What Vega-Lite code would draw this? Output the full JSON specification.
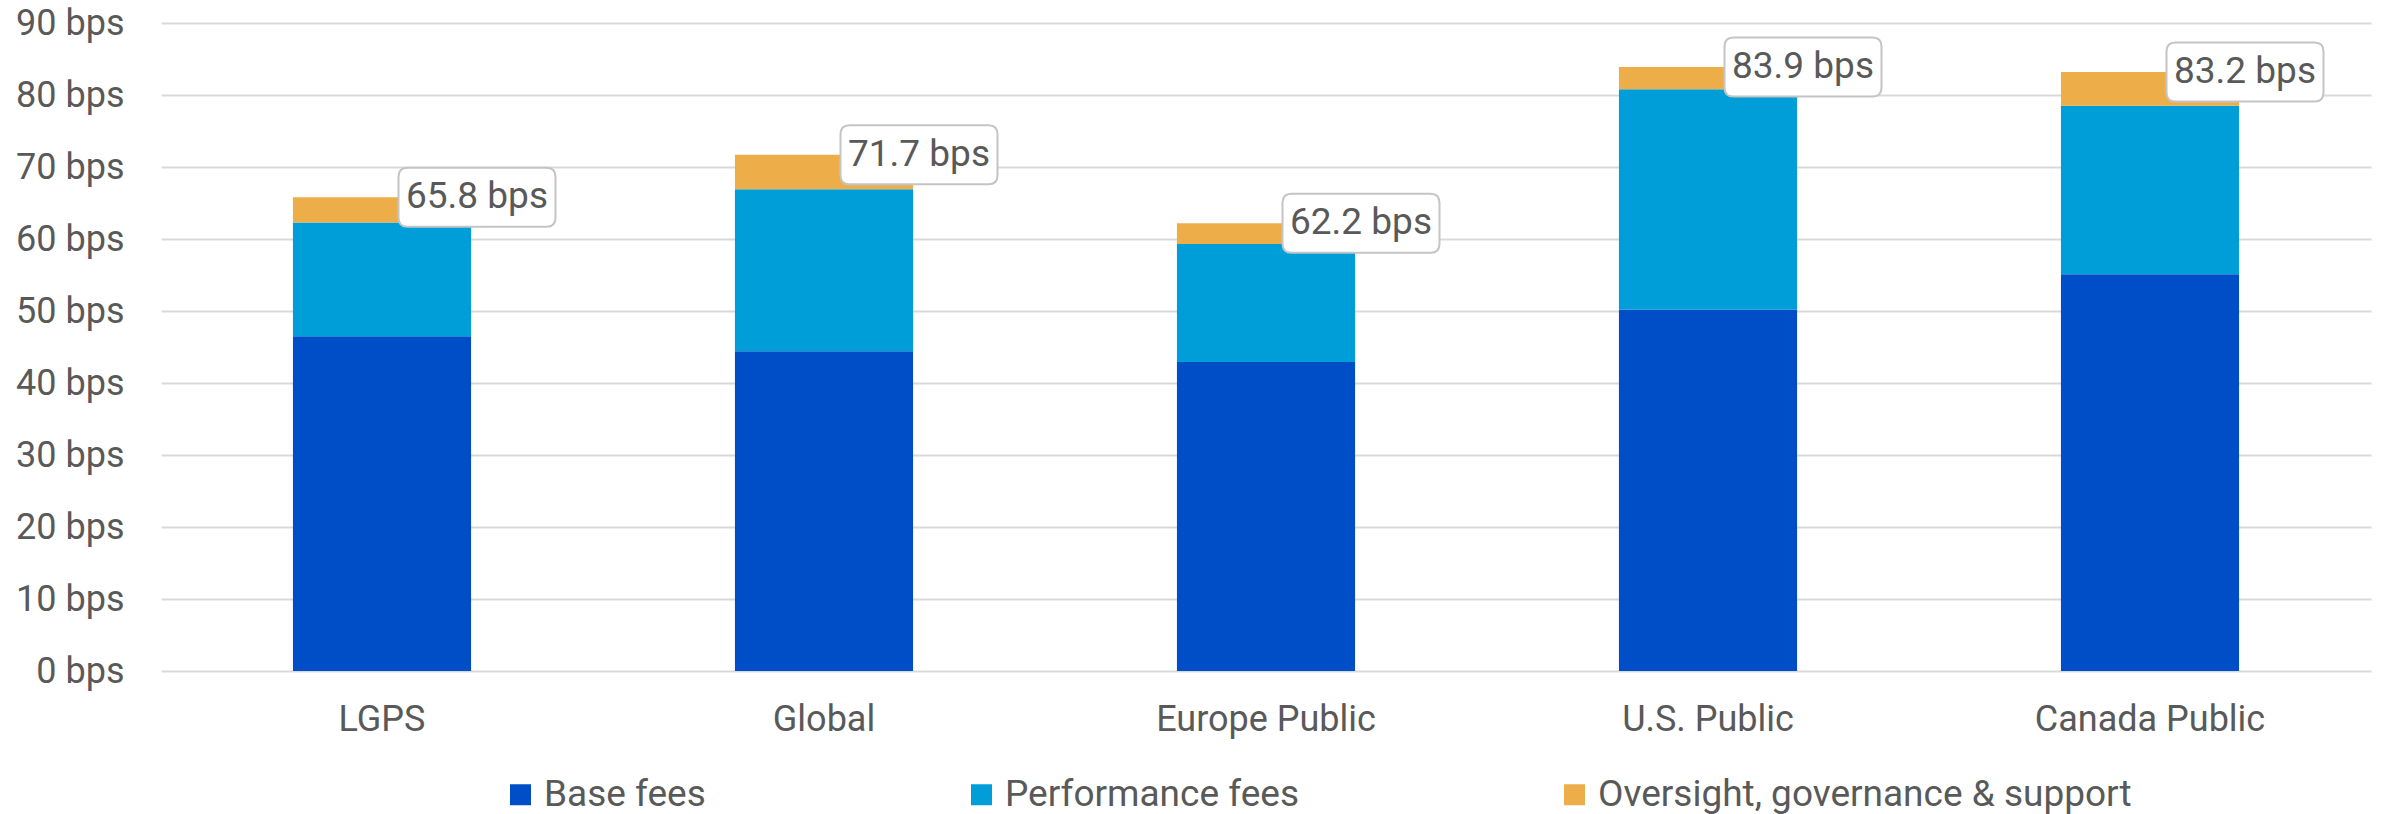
{
  "$schema": "https://vega.github.io/schema/vega-lite/v6.json",
  "autosize": "none",
  "width": 2210,
  "height": 648,
  "padding": {"left": 161, "top": 23, "right": 16, "bottom": 143},
  "background": "#ffffff",
  "config": {"view": {"stroke": null}, "font": "Roboto"},
  "datasets": {
    "segments": [
      {"cat": "LGPS", "series": "Base fees", "rank": 1, "value": 46.5},
      {"cat": "LGPS", "series": "Performance fees", "rank": 2, "value": 15.8},
      {"cat": "LGPS", "series": "Oversight, governance & support", "rank": 3, "value": 3.5},
      {"cat": "Global", "series": "Base fees", "rank": 1, "value": 44.4},
      {"cat": "Global", "series": "Performance fees", "rank": 2, "value": 22.5},
      {"cat": "Global", "series": "Oversight, governance & support", "rank": 3, "value": 4.8},
      {"cat": "Europe Public", "series": "Base fees", "rank": 1, "value": 42.9},
      {"cat": "Europe Public", "series": "Performance fees", "rank": 2, "value": 16.4},
      {"cat": "Europe Public", "series": "Oversight, governance & support", "rank": 3, "value": 2.9},
      {"cat": "U.S. Public", "series": "Base fees", "rank": 1, "value": 50.2},
      {"cat": "U.S. Public", "series": "Performance fees", "rank": 2, "value": 30.6},
      {"cat": "U.S. Public", "series": "Oversight, governance & support", "rank": 3, "value": 3.1},
      {"cat": "Canada Public", "series": "Base fees", "rank": 1, "value": 55.1},
      {"cat": "Canada Public", "series": "Performance fees", "rank": 2, "value": 23.4},
      {"cat": "Canada Public", "series": "Oversight, governance & support", "rank": 3, "value": 4.7}
    ],
    "totals": [
      {"cat": "LGPS", "total": 65.8, "label": "65.8 bps"},
      {"cat": "Global", "total": 71.7, "label": "71.7 bps"},
      {"cat": "Europe Public", "total": 62.2, "label": "62.2 bps"},
      {"cat": "U.S. Public", "total": 83.9, "label": "83.9 bps"},
      {"cat": "Canada Public", "total": 83.2, "label": "83.2 bps"}
    ]
  },
  "encoding": {
    "x": {
      "field": "cat",
      "type": "nominal",
      "sort": ["LGPS", "Global", "Europe Public", "U.S. Public", "Canada Public"],
      "scale": {"paddingInner": 0.597, "paddingOuter": 0.2985},
      "axis": {
        "title": null,
        "labelAngle": 0,
        "labelFontSize": 36,
        "labelColor": "#595959",
        "labelFont": "Roboto",
        "labelBaseline": "middle",
        "labelPadding": 48,
        "labelLimit": 1000,
        "ticks": false,
        "domain": false,
        "grid": false
      }
    }
  },
  "layer": [
    {
      "data": {"name": "segments"},
      "mark": {"type": "bar"},
      "encoding": {
        "y": {
          "field": "value",
          "type": "quantitative",
          "stack": "zero",
          "scale": {"domain": [0, 90], "nice": false},
          "axis": {
            "title": null,
            "values": [0, 10, 20, 30, 40, 50, 60, 70, 80, 90],
            "labelExpr": "datum.value + ' bps'",
            "labelFontSize": 36,
            "labelColor": "#595959",
            "labelFont": "Roboto",
            "labelPadding": 37,
            "ticks": false,
            "domain": false,
            "grid": true,
            "gridColor": "#d9d9d9",
            "gridWidth": 2
          }
        },
        "color": {
          "field": "series",
          "type": "nominal",
          "scale": {
            "domain": ["Base fees", "Performance fees", "Oversight, governance & support"],
            "range": ["#004DC8", "#009ED8", "#EDAE4A"]
          },
          "legend": {
            "title": null,
            "orient": "none",
            "direction": "horizontal",
            "legendX": 341,
            "legendY": 753,
            "padding": 0,
            "symbolType": "square",
            "symbolSize": 441,
            "symbolStrokeWidth": 0,
            "labelFontSize": 37,
            "labelFont": "Roboto",
            "labelColor": "#595959",
            "labelOffset": 5,
            "columnPadding": 257,
            "labelLimit": 1000
          }
        },
        "order": {"field": "rank", "type": "quantitative"}
      }
    },
    {
      "data": {"name": "totals"},
      "mark": {
        "type": "point",
        "shape": "M-0.885,-0.376L0.885,-0.376Q1,-0.376 1,-0.261L1,0.261Q1,0.376 0.885,0.376L-0.885,0.376Q-1,0.376 -1,0.261L-1,-0.261Q-1,-0.376 -0.885,-0.376Z",
        "size": 24649,
        "filled": true,
        "fill": "#ffffff",
        "stroke": "#c4c4c4",
        "strokeWidth": 2,
        "opacity": 1,
        "xOffset": 95
      },
      "encoding": {
        "y": {"field": "total", "type": "quantitative"}
      }
    },
    {
      "data": {"name": "totals"},
      "mark": {
        "type": "text",
        "fontSize": 37,
        "font": "Roboto",
        "color": "#595959",
        "align": "center",
        "baseline": "middle",
        "xOffset": 95
      },
      "encoding": {
        "y": {"field": "total", "type": "quantitative"},
        "text": {"field": "label", "type": "nominal"}
      }
    }
  ]
}
